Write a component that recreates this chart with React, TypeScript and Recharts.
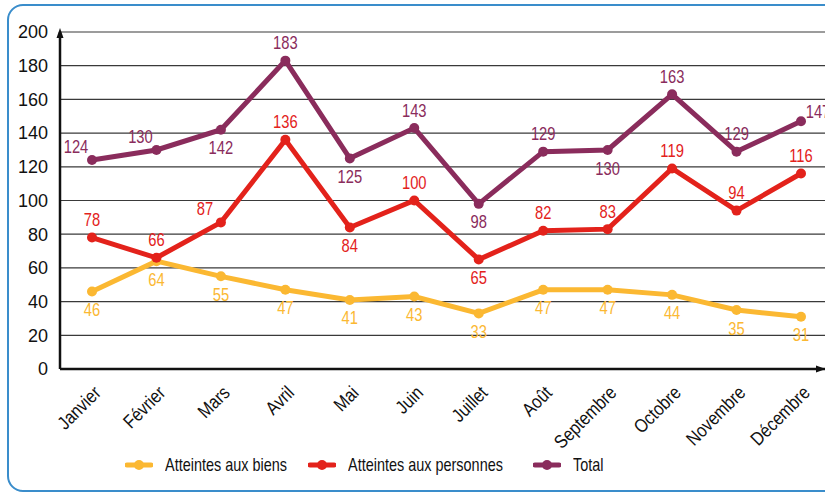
import React from 'react';
import { LineChart, Line, XAxis, YAxis, CartesianGrid, LabelList } from 'recharts';

const months = ['Janvier', 'Février', 'Mars', 'Avril', 'Mai', 'Juin', 'Juillet', 'Août', 'Septembre', 'Octobre', 'Novembre', 'Décembre'];
const biens = [46, 64, 55, 47, 41, 43, 33, 47, 47, 44, 35, 31];
const personnes = [78, 66, 87, 136, 84, 100, 65, 82, 83, 119, 94, 116];
const total = [124, 130, 142, 183, 125, 143, 98, 129, 130, 163, 129, 147];
const yTicks = [0, 20, 40, 60, 80, 100, 120, 140, 160, 180, 200];

// where each value label sits around its point
const biensPlace = months.map(() => 'below');
const personnesPlace = ['above', 'above', 'aboveLeft', 'above', 'below', 'above', 'below', 'above', 'above', 'above', 'above', 'above'];
const totalPlace = ['aboveLeft', 'aboveLeft', 'below', 'above', 'below', 'above', 'below', 'above', 'below', 'above', 'above', 'aboveRight'];

const data = months.map((m, i) => ({ month: m, biens: biens[i], personnes: personnes[i], total: total[i] }));

const YELLOW = '#FBB832';
const RED = '#E3221B';
const PURPLE = '#8A2C5C';
const FONT = '"Liberation Sans", Arial, sans-serif';

const offsets: Record<string, [number, number]> = {
  above: [0, -18],
  below: [0, 18],
  aboveLeft: [-16, -14],
  aboveRight: [17, -10],
};

// condensed look: Liberation Sans squeezed horizontally
const makeLabel = (places: string[], color: string) => (props: any) => {
  const { x, y, value, index } = props;
  const [dx, dy] = offsets[places[index]] || offsets.above;
  return (
    <text
      transform={`translate(${x + dx},${y + dy}) scale(0.82,1)`}
      textAnchor="middle"
      dominantBaseline="central"
      fill={color}
      fontSize={18}
      fontFamily={FONT}
    >
      {value}
    </text>
  );
};

const MonthTick = (props: any) => {
  const { x, y, payload } = props;
  return (
    <text transform={`translate(${x + 10},${y + 17}) rotate(-45) scale(0.85,1)`} textAnchor="end" fontSize={19} fontFamily={FONT} fill="#111">
      {payload.value}
    </text>
  );
};

const LegendItem = ({ left, color, text }: { left: number; color: string; text: string }) => (
  <div style={{ position: 'absolute', left, top: 454, display: 'flex', alignItems: 'center', whiteSpace: 'nowrap' }}>
    <svg width={28} height={22}>
      <line x1={2} y1={11} x2={26} y2={11} stroke={color} strokeWidth={5} strokeLinecap="round" />
      <circle cx={14} cy={11} r={5} fill={color} />
    </svg>
    <span style={{ marginLeft: 12, fontSize: 19, color: '#111', fontFamily: FONT, display: 'inline-block', transform: 'scaleX(0.76)', transformOrigin: 'left center' }}>
      {text}
    </span>
  </div>
);

export default function App() {
  return (
    <div style={{ position: 'absolute', left: 0, top: 0, width: 825, height: 492, overflow: 'hidden', background: '#fff', fontFamily: FONT }}>
      <div style={{ position: 'absolute', left: 7, top: 4, width: 860, height: 484, border: '2px solid #3A8DCB', borderRadius: 16 }} />
      <div style={{ position: 'absolute', left: 0, top: 0 }}>
        <LineChart width={845} height={492} data={data} margin={{ top: 32, right: 12, left: 0, bottom: 0 }}>
          <CartesianGrid vertical={false} stroke="#3a3a3a" strokeWidth={1.2} />
          <XAxis
            dataKey="month"
            height={123}
            interval={0}
            padding={{ left: 32, right: 32 }}
            axisLine={{ stroke: '#111', strokeWidth: 2.5 }}
            tickLine={false}
            tick={<MonthTick />}
          />
          <YAxis
            width={60}
            domain={[0, 200]}
            ticks={yTicks}
            interval={0}
            axisLine={{ stroke: '#111', strokeWidth: 2.5 }}
            tickLine={false}
            tickMargin={6}
            tick={{ fontSize: 18, fill: '#111', fontFamily: FONT }}
          />
          <Line dataKey="biens" stroke={YELLOW} strokeWidth={5} dot={{ r: 5, fill: YELLOW, stroke: YELLOW, strokeWidth: 0 }} isAnimationActive={false}>
            <LabelList dataKey="biens" content={makeLabel(biensPlace, YELLOW)} />
          </Line>
          <Line dataKey="personnes" stroke={RED} strokeWidth={5} dot={{ r: 5, fill: RED, stroke: RED, strokeWidth: 0 }} isAnimationActive={false}>
            <LabelList dataKey="personnes" content={makeLabel(personnesPlace, RED)} />
          </Line>
          <Line dataKey="total" stroke={PURPLE} strokeWidth={5} dot={{ r: 5, fill: PURPLE, stroke: PURPLE, strokeWidth: 0 }} isAnimationActive={false}>
            <LabelList dataKey="total" content={makeLabel(totalPlace, PURPLE)} />
          </Line>
        </LineChart>
      </div>
      <svg style={{ position: 'absolute', left: 0, top: 0 }} width={825} height={492}>
        <polygon points="60,28 56.5,38 63.5,38" fill="#111" />
        <polygon points="826,369 816,365.5 816,372.5" fill="#111" />
      </svg>
      <LegendItem left={125} color={YELLOW} text="Atteintes aux biens" />
      <LegendItem left={308} color={RED} text="Atteintes aux personnes" />
      <LegendItem left={533} color={PURPLE} text="Total" />
    </div>
  );
}
